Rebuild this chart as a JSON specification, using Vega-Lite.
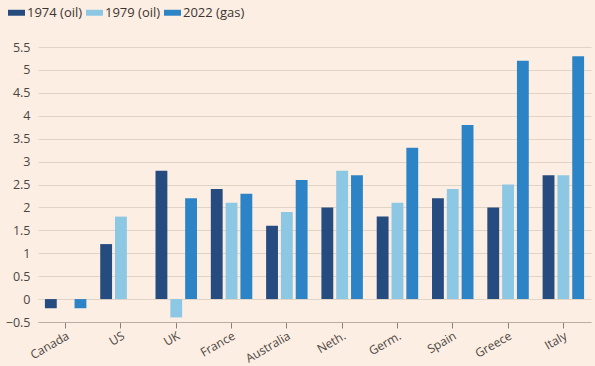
{
  "$schema": "https://vega.github.io/schema/vega-lite/v6.json",
  "width": 553,
  "height": 275,
  "autosize": "none",
  "padding": {"left": 38, "top": 47, "right": 4, "bottom": 44},
  "background": "#FDEEE3",
  "config": {
    "view": {"stroke": null},
    "font": "Open Sans",
    "axis": {"labelFont": "Open Sans", "labelColor": "#4a4542", "labelFontSize": 12.5}
  },
  "data": {
    "values": [
      {"country": "Canada", "series": "1974 (oil)", "value": -0.2},
      {"country": "Canada", "series": "2022 (gas)", "value": -0.2},
      {"country": "US", "series": "1974 (oil)", "value": 1.2},
      {"country": "US", "series": "1979 (oil)", "value": 1.8},
      {"country": "UK", "series": "1974 (oil)", "value": 2.8},
      {"country": "UK", "series": "1979 (oil)", "value": -0.4},
      {"country": "UK", "series": "2022 (gas)", "value": 2.2},
      {"country": "France", "series": "1974 (oil)", "value": 2.4},
      {"country": "France", "series": "1979 (oil)", "value": 2.1},
      {"country": "France", "series": "2022 (gas)", "value": 2.3},
      {"country": "Australia", "series": "1974 (oil)", "value": 1.6},
      {"country": "Australia", "series": "1979 (oil)", "value": 1.9},
      {"country": "Australia", "series": "2022 (gas)", "value": 2.6},
      {"country": "Neth.", "series": "1974 (oil)", "value": 2.0},
      {"country": "Neth.", "series": "1979 (oil)", "value": 2.8},
      {"country": "Neth.", "series": "2022 (gas)", "value": 2.7},
      {"country": "Germ.", "series": "1974 (oil)", "value": 1.8},
      {"country": "Germ.", "series": "1979 (oil)", "value": 2.1},
      {"country": "Germ.", "series": "2022 (gas)", "value": 3.3},
      {"country": "Spain", "series": "1974 (oil)", "value": 2.2},
      {"country": "Spain", "series": "1979 (oil)", "value": 2.4},
      {"country": "Spain", "series": "2022 (gas)", "value": 3.8},
      {"country": "Greece", "series": "1974 (oil)", "value": 2.0},
      {"country": "Greece", "series": "1979 (oil)", "value": 2.5},
      {"country": "Greece", "series": "2022 (gas)", "value": 5.2},
      {"country": "Italy", "series": "1974 (oil)", "value": 2.7},
      {"country": "Italy", "series": "1979 (oil)", "value": 2.7},
      {"country": "Italy", "series": "2022 (gas)", "value": 5.3}
    ]
  },
  "mark": {"type": "bar"},
  "encoding": {
    "x": {
      "field": "country",
      "type": "nominal",
      "sort": null,
      "title": null,
      "scale": {"paddingInner": 0.25, "paddingOuter": 0.125},
      "axis": {
        "labelAngle": -30,
        "labelFontSize": 12,
        "domainColor": "#b9ada3",
        "tickColor": "#8a8078",
        "tickSize": 6,
        "labelPadding": 2,
        "labelDx": 3,
        "offset": 0,
        "grid": false
      }
    },
    "xOffset": {
      "field": "series",
      "type": "nominal",
      "sort": ["1974 (oil)", "1979 (oil)", "2022 (gas)"],
      "scale": {"paddingInner": 0.2}
    },
    "y": {
      "field": "value",
      "type": "quantitative",
      "title": null,
      "scale": {"domain": [-0.5, 5.5], "nice": false, "zero": false},
      "axis": {
        "values": [-0.5, 0, 0.5, 1, 1.5, 2, 2.5, 3, 3.5, 4, 4.5, 5, 5.5],
        "format": "~g",
        "domain": false,
        "ticks": false,
        "labelPadding": 8,
        "gridColor": "#e2d3c7",
        "gridWidth": 1
      }
    },
    "color": {
      "field": "series",
      "type": "nominal",
      "title": null,
      "scale": {
        "domain": ["1974 (oil)", "1979 (oil)", "2022 (gas)"],
        "range": ["#264B7F", "#8CC8E3", "#2C84C6"]
      },
      "legend": {
        "orient": "none",
        "legendX": -30,
        "legendY": -43,
        "direction": "horizontal",
        "symbolType": "M-1,-0.35H1V0.35H-1Z",
        "symbolSize": 289,
        "symbolStrokeWidth": 0,
        "labelFontSize": 13,
        "labelColor": "#3a3532",
        "labelOffset": 2,
        "columnPadding": 3,
        "labelFont": "Open Sans"
      }
    }
  }
}
